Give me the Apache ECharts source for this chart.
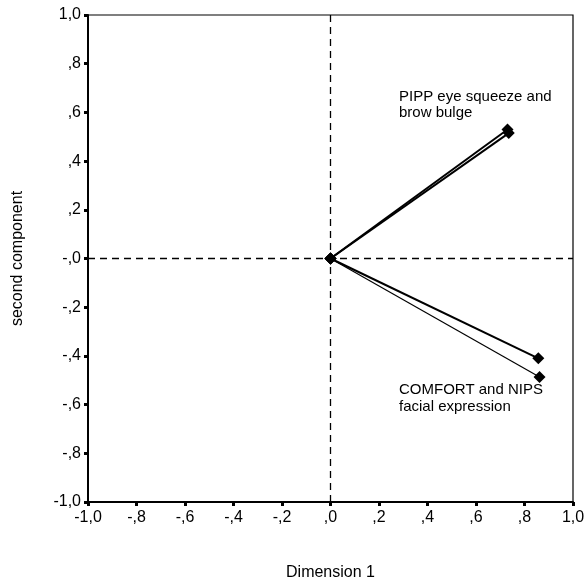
<!DOCTYPE html>
<html>
<head>
<meta charset="utf-8">
<script src="https://cdn.jsdelivr.net/npm/echarts@6/dist/echarts.min.js"></script>
<style>
  html, body { margin: 0; padding: 0; background: #fff; }
  #chart { width: 588px; height: 586px; }
</style>
</head>
<body>
<div id="chart"></div>
<script>
// Component loadings (dimension 1, second component), each drawn as a vector from the origin
const vectorNames = ['PIPP eye squeeze', 'PIPP brow bulge', 'COMFORT', 'NIPS facial expression'];
const dim1Values = [0.730, 0.735, 0.857, 0.862];
const dim2Values = [0.530, 0.515, -0.410, -0.487];
const vectorWidths = [2, 2, 2, 1.2];

// Tick labels in the axis style of the original output
const xTickValues = [-1, -0.8, -0.6, -0.4, -0.2, 0, 0.2, 0.4, 0.6, 0.8, 1];
const xTickLabels = ['-1,0', '-,8', '-,6', '-,4', '-,2', ',0', ',2', ',4', ',6', ',8', '1,0'];
const yTickValues = [-1, -0.8, -0.6, -0.4, -0.2, 0, 0.2, 0.4, 0.6, 0.8, 1];
const yTickLabels = ['-1,0', '-,8', '-,6', '-,4', '-,2', '-,0', ',2', ',4', ',6', ',8', '1,0'];

const FONT = '"Liberation Sans", Arial, sans-serif';

function tickLabel(values, labels) {
  return function (v) {
    for (let i = 0; i < values.length; i++) {
      if (Math.abs(values[i] - v) < 1e-6) return labels[i];
    }
    return '';
  };
}

const chart = echarts.init(document.getElementById('chart'), null, { renderer: 'canvas' });

const series = vectorNames.map((name, i) => ({
  name: name,
  type: 'line',
  data: [[0, 0], [dim1Values[i], dim2Values[i]]],
  symbol: 'diamond',
  symbolSize: 12,
  itemStyle: { color: '#000' },
  lineStyle: { color: '#000', width: vectorWidths[i] },
  animation: false,
  z: 5
}));

// Dashed reference lines through the origin
series.push({
  type: 'line',
  data: [],
  animation: false,
  markLine: {
    silent: true,
    symbol: ['none', 'none'],
    label: { show: false },
    lineStyle: { color: '#000', type: [7, 5], width: 1.3 },
    data: [{ xAxis: 0 }, { yAxis: 0 }]
  }
});

chart.setOption({
  backgroundColor: '#fff',
  animation: false,
  grid: {
    left: 88, right: 15, top: 15, bottom: 84,
    show: true, borderColor: '#000', borderWidth: 1.2, backgroundColor: 'transparent'
  },
  xAxis: {
    type: 'value', min: -1, max: 1, interval: 0.2,
    name: 'Dimension 1', nameLocation: 'middle', nameGap: 63,
    nameTextStyle: { fontFamily: FONT, fontSize: 16, color: '#000' },
    axisLine: { show: true, onZero: false, lineStyle: { color: '#000', width: 2 } },
    axisTick: { show: true, length: 4, lineStyle: { color: '#000', width: 3 } },
    axisLabel: { margin: 8, fontFamily: FONT, fontSize: 16, color: '#000',
                 formatter: tickLabel(xTickValues, xTickLabels) },
    splitLine: { show: false }
  },
  yAxis: {
    type: 'value', min: -1, max: 1, interval: 0.2,
    name: 'second component', nameLocation: 'middle', nameGap: 62,
    nameTextStyle: { fontFamily: FONT, fontSize: 16, color: '#000' },
    axisLine: { show: true, onZero: false, lineStyle: { color: '#000', width: 2 } },
    axisTick: { show: true, length: 4, lineStyle: { color: '#000', width: 3 } },
    axisLabel: { margin: 7, fontFamily: FONT, fontSize: 16, color: '#000',
                 formatter: tickLabel(yTickValues, yTickLabels) },
    splitLine: { show: false }
  },
  graphic: [
    {
      type: 'text', left: 399, top: 89,
      style: { text: 'PIPP eye squeeze and\nbrow bulge', font: '15px ' + FONT,
               fill: '#000', lineHeight: 16 }
    },
    {
      type: 'text', left: 399, top: 381,
      style: { text: 'COMFORT and NIPS\nfacial expression', font: '15px ' + FONT,
               fill: '#000', lineHeight: 17 }
    }
  ],
  series: series
});
</script>
</body>
</html>
